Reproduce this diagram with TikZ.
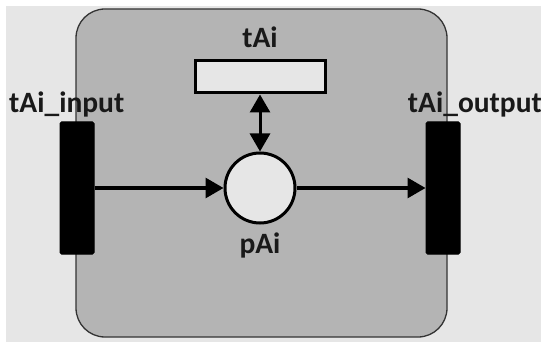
\documentclass[tikz,border=0pt]{standalone}
\usepackage{fontspec}
\setmainfont{Carlito}
\usetikzlibrary{arrows.meta}
\definecolor{pagebg}{HTML}{E6E6E6}
\definecolor{modulefill}{HTML}{B4B4B4}
\definecolor{placefill}{HTML}{E6E6E6}
\tikzset{
  module/.style={draw=black!80, line width=1.3pt, fill=modulefill, rounded corners=29pt},
  bar/.style={fill=black, draw=black, line width=1pt, rounded corners=1.5pt, minimum width=34pt, minimum height=132pt, inner sep=0pt},
  place/.style={circle, draw=black, line width=3pt, fill=placefill, minimum size=70pt, inner sep=0pt},
  trans/.style={draw=black, line width=3pt, fill=placefill, minimum width=130pt, minimum height=32pt, inner sep=0pt},
  arc/.style={draw=black, line width=3pt, -{Triangle[length=18pt,width=20pt]}},
  lbl/.style={font=\fontsize{29.5}{30}\selectfont\bfseries, inner sep=0pt, text=black!90}
}
\begin{document}
\begin{tikzpicture}[x=1pt,y=-1pt]
  % page and outline margins
  \useasboundingbox (0,0) rectangle (541,342);
  \fill[white] (0,0) rectangle (541,342);
  \fill[pagebg] (6,6) rectangle (541,342);
  % module boundary
  \draw[module] (76,9) rectangle (447,337);
  % places and transitions
  \node[bar] (tin) at (77,188) {};
  \node[bar] (tout) at (443,188) {};
  \node[place] (pA) at (260,188) {};
  \node[trans] (tA) at (260,77) {};
  % labels
  \node[lbl, anchor=base west] at (9,113) {tAi\_input};
  \node[lbl, anchor=base east] at (542,113) {tAi\_output};
  \node[lbl, anchor=base] at (260,48) {tAi};
  \node[lbl, anchor=base] at (260,253) {pAi};
  % arcs
  \draw[arc] (tin.east) -- (pA.west);
  \draw[arc] (pA.east) -- (tout.west);
  \draw[arc, {Triangle[length=18pt,width=20pt]}-{Triangle[length=18pt,width=20pt]}] (tA.south) -- (pA.north);
\end{tikzpicture}
\end{document}
